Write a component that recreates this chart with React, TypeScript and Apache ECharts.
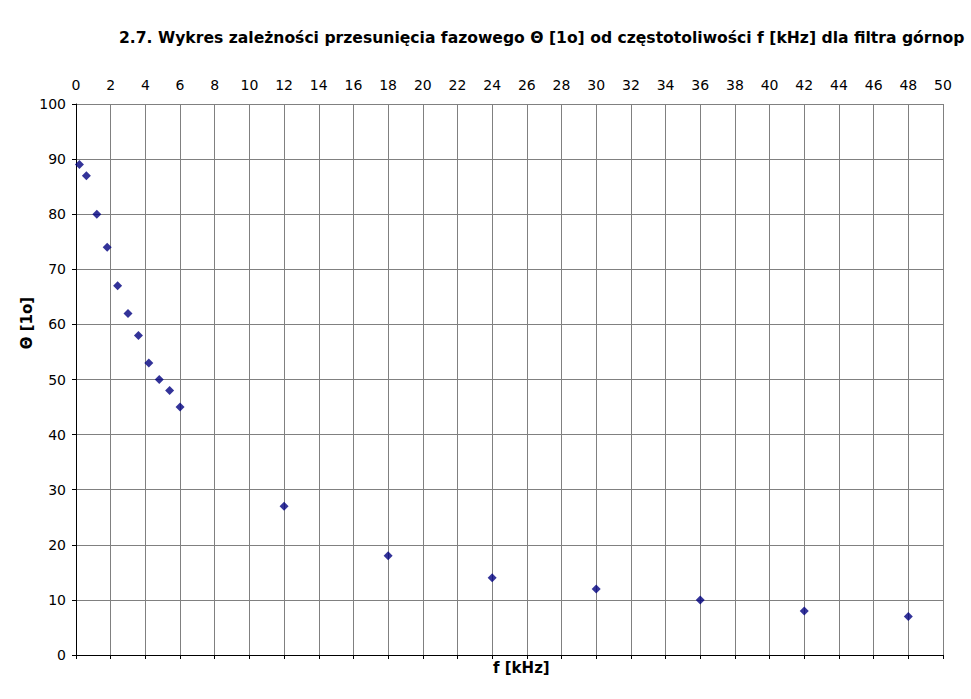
import React, { useEffect, useRef } from "react";
import * as echarts from "echarts";

const titleText =
  "2.7. Wykres zależności przesunięcia fazowego Θ [1o] od częstotoliwości f [kHz] dla filtra górnop";
const xName = "f [kHz]";
const yName = "Θ [1o]";
const freqKHz = [0.2, 0.6, 1.2, 1.8, 2.4, 3, 3.6, 4.2, 4.8, 5.4, 6, 12, 18, 24, 30, 36, 42, 48];
const phaseDeg = [89, 87, 80, 74, 67, 62, 58, 53, 50, 48, 45, 27, 18, 14, 12, 10, 8, 7];

export default function App() {
  const ref = useRef<HTMLDivElement>(null);
  useEffect(() => {
    if (!ref.current) return;
    const chart = echarts.init(ref.current, undefined, { renderer: "svg" });
    const font = "DejaVu Sans";
    chart.setOption({
      animation: false,
      backgroundColor: "#ffffff",
      title: {
        text: titleText,
        left: 119,
        top: 30,
        padding: 0,
        textStyle: { fontFamily: font, fontSize: 15.6, fontWeight: "bold", color: "#000" },
      },
      graphic: [
        {
          type: "text",
          left: 493,
          top: 660,
          style: {
            text: xName,
            fontFamily: font,
            fontSize: 15,
            fontWeight: "bold",
            fill: "#000",
          },
        },
        {
          type: "text",
          x: 27,
          y: 323,
          rotation: Math.PI / 2,
          style: {
            text: yName,
            fontFamily: font,
            fontSize: 15,
            fontWeight: "bold",
            fill: "#000",
            align: "center",
            verticalAlign: "middle",
          },
        },
      ],
      grid: { left: 76, right: 28, top: 104, bottom: 44, containLabel: false },
      xAxis: [
        {
          type: "value",
          position: "bottom",
          min: 0,
          max: 50,
          interval: 2,
          axisLine: { show: true, lineStyle: { color: "#000", width: 1 } },
          axisTick: { show: true, length: 4, lineStyle: { color: "#000" } },
          axisLabel: { show: false },
          splitLine: { show: true, lineStyle: { color: "#808080", width: 1 } },
        },
        {
          type: "value",
          position: "top",
          min: 0,
          max: 50,
          interval: 2,
          axisLine: { show: false },
          axisTick: { show: false },
          axisLabel: { show: true, margin: 12, fontFamily: font, fontSize: 14, color: "#000" },
          splitLine: { show: false },
        },
      ],
      yAxis: {
        type: "value",
        min: 0,
        max: 100,
        interval: 10,
        axisLine: { show: true, lineStyle: { color: "#000", width: 1 } },
        axisTick: { show: true, length: 4, lineStyle: { color: "#000" } },
        axisLabel: { margin: 10, fontFamily: font, fontSize: 14, color: "#000" },
        splitLine: { show: true, lineStyle: { color: "#808080", width: 1 } },
      },
      series: [
        {
          type: "scatter",
          xAxisIndex: 0,
          data: freqKHz.map((f, i) => [f, phaseDeg[i]]),
          symbol: "diamond",
          symbolSize: 9,
          itemStyle: { color: "#000080" },
        },
      ],
    });
    return () => chart.dispose();
  }, []);
  return <div ref={ref} style={{ width: 971, height: 699, position: "absolute", left: 0, top: 0 }} />;
}
